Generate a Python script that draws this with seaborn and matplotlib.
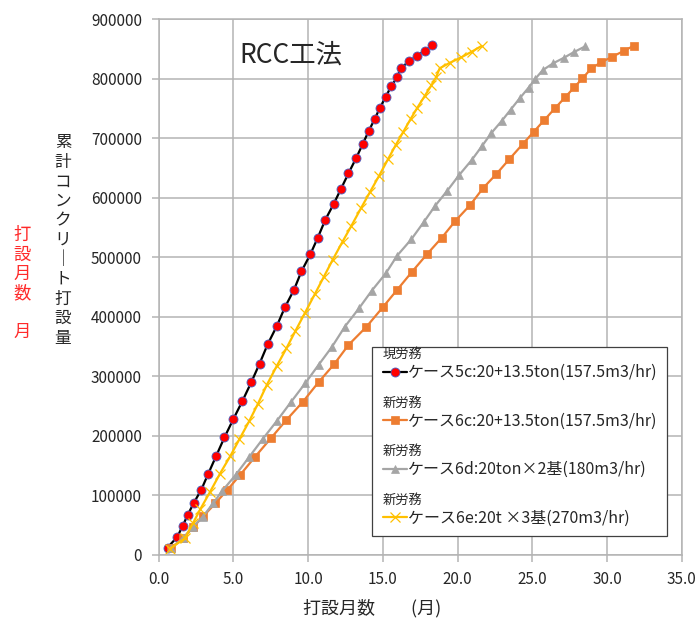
import matplotlib as mpl
mpl.use('Agg')
import matplotlib.pyplot as plt
from matplotlib.patches import Rectangle
from matplotlib.ticker import FuncFormatter
import seaborn as sns

# ケース5c (現労務)
months_5c = [0.6, 1.25, 1.6, 1.95, 2.35, 2.85, 3.3, 3.85, 4.4, 5.0, 5.6, 6.2, 6.75, 7.3, 7.9,
             8.45, 9.05, 9.55, 10.15, 10.65, 11.15, 11.7, 12.2, 12.7, 13.2, 13.65, 14.05,
             14.45, 14.8, 15.2, 15.55, 15.95, 16.2, 16.75, 17.25, 17.8, 18.3]
volume_5c = [12000, 30000, 48000, 67000, 87000, 109000, 135000, 166000, 197000, 228000,
             258000, 290000, 321000, 354000, 384000, 416000, 445000, 476000, 505000, 533000,
             563000, 589000, 615000, 641000, 666000, 690000, 712000, 732000, 751000, 770000,
             787000, 802000, 818000, 829000, 838000, 847000, 856000]

# ケース6c (新労務)
months_6c = [0.8, 1.65, 2.3, 3.0, 3.8, 4.6, 5.45, 6.45, 7.5, 8.55, 9.65, 10.7, 11.75, 12.7,
             13.9, 15.0, 15.95, 16.95, 17.95, 18.95, 19.85, 20.85, 21.7, 22.6, 23.45, 24.35,
             25.1, 25.8, 26.5, 27.2, 27.8, 28.35, 28.95, 29.6, 30.35, 31.1, 31.8]
volume_6c = [11000, 27500, 46000, 65000, 86500, 109000, 134000, 164500, 195500, 226500,
             257000, 290000, 320500, 352500, 383000, 416000, 445000, 475500, 505000, 533000,
             561000, 588000, 616000, 640000, 664500, 690000, 711000, 730500, 750000, 769000,
             785500, 800500, 817500, 827500, 837000, 846500, 855500]

# ケース6d (新労務)
months_6d = [0.85, 1.65, 2.3, 2.95, 3.65, 4.25, 5.15, 6.05, 6.95, 7.9, 8.85, 9.8, 10.7, 11.6,
             12.45, 13.4, 14.25, 15.2, 15.95, 16.9, 17.75, 18.5, 19.3, 20.1, 20.95, 21.65,
             22.25, 22.95, 23.55, 24.15, 24.75, 25.2, 25.7, 26.4, 27.1, 27.8, 28.55]
volume_6d = [11000, 28500, 47000, 63500, 86500, 107000, 134000, 164000, 194000, 224500,
             256500, 288000, 319000, 349500, 383000, 414000, 443500, 473000, 502500, 530000,
             559500, 586500, 611500, 638000, 663500, 687500, 708500, 729000, 748000, 767000,
             785000, 800000, 814500, 826000, 835000, 845000, 854500]

# ケース6e (新労務)
months_6e = [0.75, 1.75, 2.3, 2.8, 3.45, 4.1, 4.8, 5.4, 6.05, 6.65, 7.25, 7.9, 8.55, 9.15,
             9.8, 10.45, 11.05, 11.65, 12.3, 12.9, 13.55, 14.15, 14.75, 15.35, 15.85, 16.35,
             16.85, 17.3, 17.8, 18.25, 18.55, 18.8, 19.5, 20.25, 20.95, 21.6]
volume_6e = [10000, 27500, 53000, 77000, 106000, 136000, 166000, 194000, 224000, 254000,
             286000, 317000, 347000, 376000, 407000, 438000, 467000, 496000, 526000, 553000,
             583000, 610000, 637000, 665000, 688000, 710000, 732000, 751000, 771000, 789000,
             802000, 817500, 827000, 836000, 845500, 855000]

headers = ['現労務', '新労務', '新労務', '新労務']
case_labels = ['ケース5c:20+13.5ton(157.5m3/hr)',
               'ケース6c:20+13.5ton(157.5m3/hr)',
               'ケース6d:20ton×2基(180m3/hr)',
               'ケース6e:20t ×3基(270m3/hr)']
title = 'RCC工法'
ylabel = '累計コンクリート打設量'
side_label = ['打', '設', '月', '数', '', '月']
xlabel = '打設月数\u3000\u3000(月)'

sns.set_theme(style='white')
plt.rcParams['font.family'] = ['Noto Sans CJK JP', 'DejaVu Sans']

fig = plt.figure(figsize=(6.97, 6.19), dpi=100)
ax = fig.add_axes([0.2276, 0.1039, 0.7507, 0.8651])

styles = [
    (months_5c, volume_5c, dict(color='black', marker='o', markersize=6.5, markerfacecolor='#ff0000',
                                markeredgecolor='#4a5fc1', markeredgewidth=0.6)),
    (months_6c, volume_6c, dict(color='#ed7d31', marker='s', markersize=5.8, markerfacecolor='#ed7d31',
                                markeredgecolor='#ed7d31', markeredgewidth=0.5)),
    (months_6d, volume_6d, dict(color='#a5a5a5', marker='^', markersize=6.2, markerfacecolor='#a5a5a5',
                                markeredgecolor='#a5a5a5', markeredgewidth=0.5)),
    (months_6e, volume_6e, dict(color='#ffc000', marker='x', markersize=7, markeredgecolor='#ffc000',
                                markeredgewidth=0.9)),
]
for xs, ys, kw in styles:
    sns.lineplot(x=xs, y=ys, ax=ax, sort=False, estimator=None, linewidth=1.6, **kw)

ax.set_xlim(0, 35)
ax.set_ylim(0, 900000)
ax.set_xticks([0, 5, 10, 15, 20, 25, 30, 35])
ax.set_yticks(range(0, 900001, 100000))
ax.xaxis.set_major_formatter(FuncFormatter(lambda v, p: f'{v:.1f}'))
ax.yaxis.set_major_formatter(FuncFormatter(lambda v, p: f'{int(v)}'))
ax.grid(True, color='#b4b4b4', linewidth=1.1)
for s in ax.spines.values():
    s.set_color('#b4b4b4')
    s.set_linewidth(1.1)
ax.tick_params(bottom=True, left=True, direction='out', length=5, width=1.1,
               color='#b4b4b4', labelsize=11, labelcolor='#262626', pad=7)
ax.set_xlabel('')
ax.set_ylabel('')

ax.text(0.253, 0.933, title, transform=ax.transAxes, ha='center', va='center',
        fontsize=19, color='#262626')

W, H = 697, 619
for i, ch in enumerate(ylabel):
    if ch == 'ー':
        ch = '｜'
    fig.text(63 / W, 1 - (143 + 19.5 * i) / H, ch, ha='center', va='center',
             fontsize=12, color='#262626')
for i, ch in enumerate(side_label):
    fig.text(22 / W, 1 - (235 + 19.4 * i) / H, ch, ha='center', va='center',
             fontsize=12.5, color='#ff2a2a')
fig.text(303 / W, 1 - 608 / H, xlabel, ha='left', va='center', fontsize=13, color='#262626')

# legend box as in the reference, entries drawn by the legend without its own frame
ax.add_patch(Rectangle((0.408, 0.035), 0.564, 0.353, transform=ax.transAxes,
                       facecolor='white', edgecolor='#404040', linewidth=0.9, zorder=4.5))
leg = ax.legend(ax.get_lines()[:4], case_labels, loc='upper left',
                bbox_to_anchor=(0.4283, 0.3555), frameon=False, fontsize=11.5,
                handlelength=1.5, handletextpad=0.1, labelspacing=1.97, borderpad=0,
                borderaxespad=0)
leg.set_zorder(5)

# headers above each legend entry, aligned with the handle start
fig.canvas.draw()
r = fig.canvas.get_renderer()
hx = ax.transAxes.transform((0.4283, 0))[0]
for t, h in zip(leg.get_texts(), headers):
    bb = t.get_window_extent(r)
    yc = 0.5 * (bb.y0 + bb.y1) + 18
    fig.text(hx / fig.bbox.width, yc / fig.bbox.height, h,
             ha='left', va='center', fontsize=9.5, color='#262626', zorder=6)

fig.savefig('out.png', dpi=100)
